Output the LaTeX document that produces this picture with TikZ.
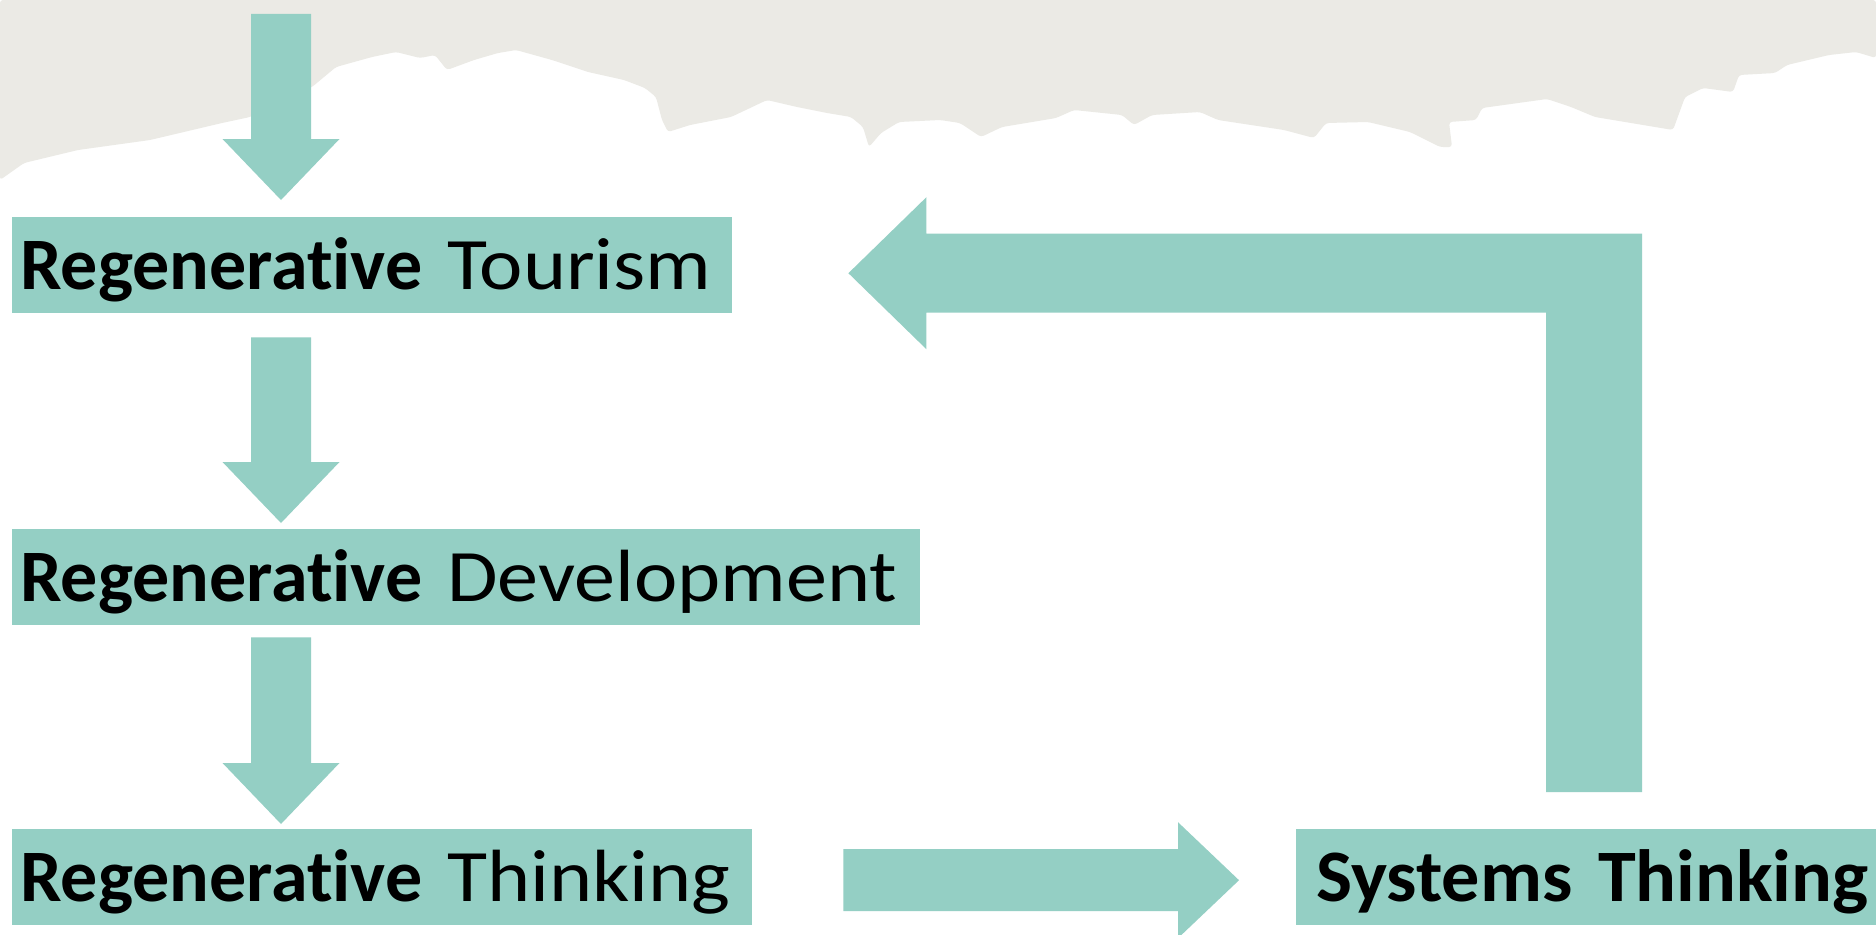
\documentclass[tikz,border=0pt]{standalone}
\usepackage{graphicx}
\usepackage{fontspec}
\setmainfont{Carlito}[Ligatures=NoCommon]
\usetikzlibrary{calc}
\definecolor{flowteal}{HTML}{94CFC4}
\definecolor{paper}{HTML}{EBEAE5}
\newcommand\regw[1]{\scalebox{1.11}[1]{#1}}
\newcommand\bldw[1]{\textbf{#1}}
\newcommand\blockdown[2]{%
  \fill[flow] let \p1=(#1),\p2=(#2) in
    (\x1-30pt,\y1) -- (\x1+30pt,\y1) -- (\x1+30pt,\y2+61pt) -- (\x1+58.5pt,\y2+61pt)
    -- (\x1,\y2) -- (\x1-58.5pt,\y2+61pt) -- (\x1-30pt,\y2+61pt) -- cycle;}
\newcommand\blockright[2]{%
  \fill[flow] let \p1=(#1),\p2=(#2) in
    (\x1,\y1+31pt) -- (\x2-61pt,\y1+31pt) -- (\x2-61pt,\y1+58pt)
    -- (\x2,\y1) -- (\x2-61pt,\y1-58pt) -- (\x2-61pt,\y1-31pt) -- (\x1,\y1-31pt) -- cycle;}
\begin{document}
\begin{tikzpicture}[x=1pt,y=-1pt,
  box/.style={fill=flowteal, anchor=north west, inner xsep=8pt, inner ysep=0pt,
    text height=72pt, text depth=24pt, align=left,
    font=\fontsize{74}{80}\selectfont},
  flow/.style={fill=flowteal}]
\useasboundingbox (0,0) rectangle (1876,934);
\clip (0,0) rectangle (1876,934);
\fill[white] (0,0) rectangle (1876,934);
% torn paper background at the top
\fill[paper, rounded corners=3pt] (0,0) -- (1876,0) -- (1876,58) -- (1856,52) -- (1829,55)
  -- (1787,65) -- (1775,73) -- (1739,75) -- (1733,92) -- (1703,88) -- (1685,97)
  -- (1673,130) -- (1595,117) -- (1571,107) -- (1547,99) -- (1482,108) -- (1476,120)
  -- (1449,122) -- (1452,147) -- (1440,147) -- (1410,132) -- (1368,122) -- (1326,123)
  -- (1314,138) -- (1284,130) -- (1218,120) -- (1200,112) -- (1152,115) -- (1134,125)
  -- (1122,115) -- (1074,110) -- (1056,118) -- (1002,127) -- (981,137) -- (960,123)
  -- (940,120) -- (899,122) -- (881,133) -- (869,147) -- (863,127) -- (851,117)
  -- (827,113) -- (797,107) -- (767,100) -- (731,117) -- (690,125) -- (668,132)
  -- (662,120) -- (656,97) -- (645,88) -- (624,80) -- (588,72) -- (552,60)
  -- (516,50) -- (498,53) -- (474,60) -- (447,70) -- (435,55) -- (420,58)
  -- (396,52) -- (372,57) -- (336,67) -- (312,87) -- (250,117) -- (222,123)
  -- (150,140) -- (78,150) -- (24,163) -- (0,180) -- cycle;

% boxes
\node[box, text width=704pt] (T) at (12,217) {\bldw{Regenerative} \regw{Tourism}};
\node[box, text width=892pt] (D) at (12,529) {\bldw{Regenerative} \regw{Development}};
\node[box, text width=724pt] (Th) at (12,829) {\bldw{Regenerative} \regw{Thinking}};
\node[box, inner xsep=20pt, text width=600pt] (S) at (1296,829) {\scalebox{1.03}[1]{\textbf{Systems Thinking}}};

% down arrows
\coordinate (d1s) at (281,14);
\path (d1s |- T.north) ++(0,-17) coordinate (d1e);
\blockdown{d1s}{d1e}
\path (d1s |- T.south) ++(0,24) coordinate (d2s);
\path (d1s |- D.north) ++(0,-6) coordinate (d2e);
\blockdown{d2s}{d2e}
\path (d1s |- D.south) ++(0,12) coordinate (d3s);
\path (d1s |- Th.north) ++(0,-5) coordinate (d3e);
\blockdown{d3s}{d3e}

% right arrow
\path (Th.east) ++(91,3) coordinate (rs);
\path (rs -| S.west) ++(-57,0) coordinate (re);
\blockright{rs}{re}

% return arrow
\path (S.north) ++(-22,-37) coordinate (bs);
\path (T.east) ++(116,8) coordinate (be);
\fill[flow] let \p1=(bs),\p2=(be) in
  (\x1-48pt,\y1) -- (\x1+48pt,\y1) -- (\x1+48pt,\y2+39.5pt) -- (\x2+78pt,\y2+39.5pt)
  -- (\x2+78pt,\y2+76pt) -- (\x2,\y2) -- (\x2+78pt,\y2-76pt) -- (\x2+78pt,\y2-39.5pt)
  -- (\x1-48pt,\y2-39.5pt) -- cycle;
\end{tikzpicture}
\end{document}
